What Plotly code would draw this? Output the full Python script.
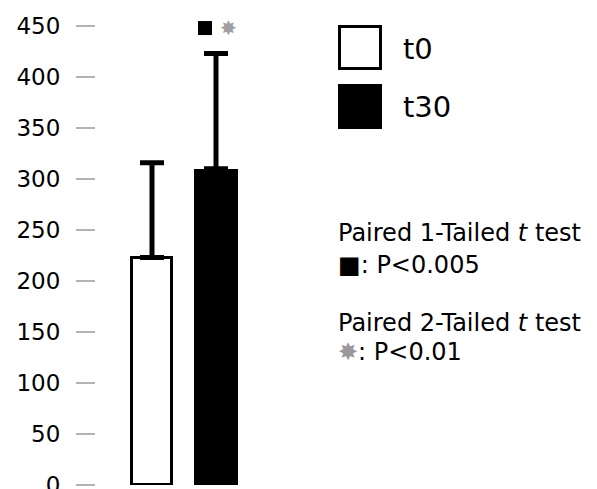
import plotly.graph_objects as go

# ---- data ----
groups = ["t0", "t30"]
means = [223, 310]
sd_upper = [93, 113]
sig_level = 448
tick_vals = [0, 50, 100, 150, 200, 250, 300, 350, 400, 450]
stat_lines = [
    "Paired 1-Tailed <i>t</i> test",
    "■: P&lt;0.005",
    "Paired 2-Tailed <i>t</i> test",
    "<span style='color:#999999'>✸</span>: P&lt;0.01",
]

W, H = 597, 489
ML, MR, MT, MB = 96, 6, 10, 4
PW, PH = W - ML - MR, H - MT - MB
FONT = "DejaVu Sans, sans-serif"


def px(x):
    return (x - ML) / PW


def py(y):
    return (H - MB - y) / PH


fig = go.Figure()
fig.add_trace(go.Bar(
    x=[0, 1], y=means,
    width=[0.625, 0.70],
    marker=dict(color=["white", "black"], line=dict(color="black", width=[3, 0])),
    error_y=dict(type="data", symmetric=False, array=sd_upper, arrayminus=[0, 0],
                 color="black", thickness=5, width=12),
    hovertext=groups, showlegend=False,
))

shapes = []
# significance square over t30
shapes.append(dict(type="rect", xref="x", yref="y", xsizemode="pixel", ysizemode="pixel",
                   xanchor=1, yanchor=sig_level, x0=-18, x1=-4, y0=-7, y1=7,
                   fillcolor="black", line=dict(width=0)))
# legend squares
shapes.append(dict(type="rect", xref="paper", yref="paper",
                   x0=px(339.5), x1=px(380.5), y0=py(68.5), y1=py(26.5),
                   fillcolor="white", line=dict(color="black", width=3)))
shapes.append(dict(type="rect", xref="paper", yref="paper",
                   x0=px(338), x1=px(382), y0=py(129), y1=py(84),
                   fillcolor="black", line=dict(width=0)))

annotations = []
annotations.append(dict(x=1, y=sig_level, xref="x", yref="y", xshift=12, text="✸",
                        showarrow=False, font=dict(family="DejaVu Sans", size=20, color="#a0a0a0")))
annotations.append(dict(x=px(401), y=py(49), xref="paper", yref="paper", text=groups[0],
                        xanchor="left", yanchor="middle", showarrow=False,
                        font=dict(family=FONT, size=29, color="black")))
annotations.append(dict(x=px(401), y=py(107), xref="paper", yref="paper", text=groups[1],
                        xanchor="left", yanchor="middle", showarrow=False,
                        font=dict(family=FONT, size=29, color="black")))
for txt, yy in zip(stat_lines, [233, 265, 323, 352]):
    annotations.append(dict(x=px(336), y=py(yy), xref="paper", yref="paper", text=txt,
                            xanchor="left", yanchor="middle", showarrow=False,
                            font=dict(family=FONT, size=24, color="black")))

fig.update_layout(
    width=W, height=H,
    margin=dict(l=ML, r=MR, t=MT, b=MB, autoexpand=False),
    paper_bgcolor="white", plot_bgcolor="white",
    font=dict(family=FONT, size=23, color="black"),
    xaxis=dict(range=[-0.875, -0.875 + PW / 64], visible=False, fixedrange=True,
               automargin=False),
    yaxis=dict(range=[0, PH / 1.02], tickvals=tick_vals, ticks="outside", ticklen=19,
               tickwidth=2, tickcolor="#b3b3b3", showgrid=False, zeroline=False,
               showline=False, ticklabelstandoff=11, automargin=False,
               ticklabeloverflow="allow",
               tickfont=dict(family=FONT, size=23, color="black")),
    shapes=shapes, annotations=annotations,
    bargap=0,
)

fig.write_html("out.html", config={"displayModeBar": False},
               post_script="document.body.style.margin='0';document.body.style.padding='0';")
